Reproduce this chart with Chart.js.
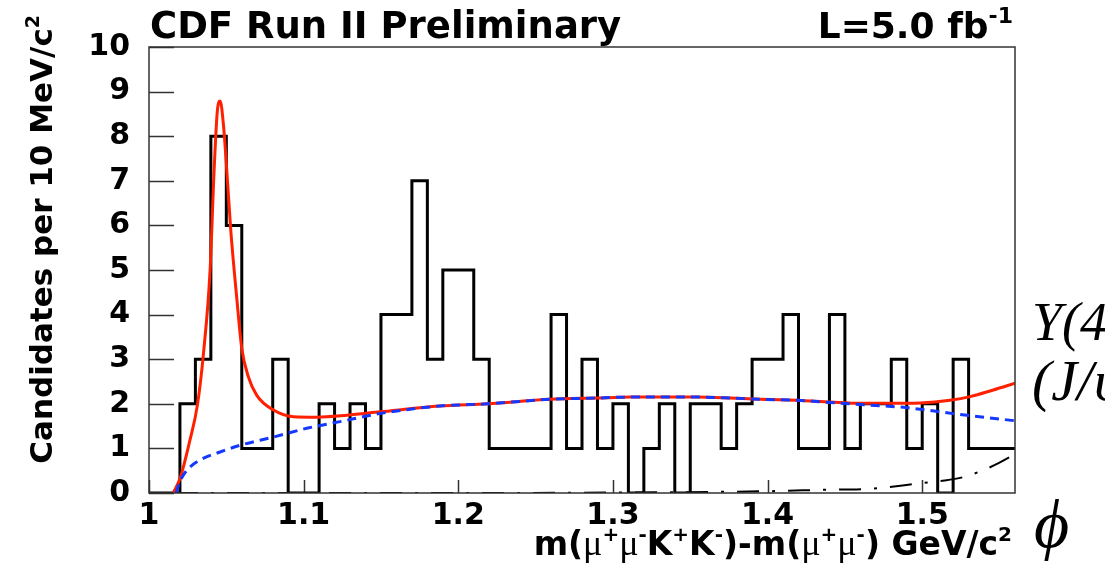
<!DOCTYPE html>
<html>
<head>
<meta charset="utf-8">
<title>CDF Run II Preliminary</title>
<script src="https://cdn.jsdelivr.net/npm/chart.js@4.4.1/dist/chart.umd.min.js"></script>
<style>
    html, body { margin: 0; padding: 0; background: #fff; overflow: hidden; }
    #wrap { position: relative; width: 1105px; height: 571px; overflow: hidden; }
    #plot { position: absolute; left: 0; top: 0; }
    .note {
        position: absolute;
        font-family: 'Liberation Serif', serif;
        font-style: italic;
        font-size: 54px;
        line-height: 1;
        color: #000;
        white-space: nowrap;
    }
</style>
</head>
<body>
<div id="wrap">
    <canvas id="plot" width="1105" height="571"></canvas>
    <div class="note" style="left:1032px; top:295px;">Y(4140)</div>
    <div class="note" style="left:1032px; top:352px; font-size:58px;">(J/ψ φ)</div>
    <div class="note" style="left:1034px; top:490px; font-size:68px;">ϕ</div>
</div>

<script>
// histogram bins, lower edges (10 MeV/c2 wide)
const binLow = [1.00, 1.01, 1.02, 1.03, 1.04, 1.05, 1.06, 1.07, 1.08, 1.09,
                1.10, 1.11, 1.12, 1.13, 1.14, 1.15, 1.16, 1.17, 1.18, 1.19,
                1.20, 1.21, 1.22, 1.23, 1.24, 1.25, 1.26, 1.27, 1.28, 1.29,
                1.30, 1.31, 1.32, 1.33, 1.34, 1.35, 1.36, 1.37, 1.38, 1.39,
                1.40, 1.41, 1.42, 1.43, 1.44, 1.45, 1.46, 1.47, 1.48, 1.49,
                1.50, 1.51, 1.52, 1.53, 1.54, 1.55];
const counts = [0, 0, 2, 3, 8, 6, 1, 1, 3, 0,
                0, 2, 1, 2, 1, 4, 4, 7, 3, 5,
                5, 3, 1, 1, 1, 1, 4, 1, 3, 1,
                2, 0, 1, 2, 0, 2, 2, 1, 2, 3,
                3, 4, 1, 1, 4, 1, 2, 2, 3, 1,
                2, 0, 3, 1, 1, 1];

// total fit (red)
const fitX = [1.0157, 1.0201, 1.0265, 1.0313, 1.0352, 1.0395, 1.0421, 1.0442, 1.0460,
              1.0481, 1.0503, 1.0529, 1.0567, 1.0600, 1.0643, 1.0697, 1.0805, 1.0934,
              1.1085, 1.128, 1.1495, 1.188, 1.219, 1.259, 1.290, 1.311, 1.354, 1.376,
              1.391, 1.419, 1.4405, 1.460, 1.477, 1.499, 1.518, 1.531, 1.546, 1.560];
const fitY = [0, 0.33, 1.19, 1.97, 3.12, 4.99, 7.23, 8.57, 8.79,
              8.27, 7.23, 5.88, 4.39, 3.24, 2.60, 2.19, 1.86, 1.71,
              1.70, 1.745, 1.82, 1.95, 2.00, 2.10, 2.13, 2.15, 2.15, 2.13,
              2.11, 2.08, 2.04, 2.01, 2.01, 2.02, 2.08, 2.16, 2.31, 2.46];

// background (blue dashed)
const bkgX = [1.0175, 1.0196, 1.0222, 1.0265, 1.033, 1.046, 1.0589, 1.080, 1.102,
              1.1235, 1.149, 1.188, 1.219, 1.259, 1.290, 1.311, 1.354, 1.376,
              1.3956, 1.419, 1.4405, 1.466, 1.488, 1.503, 1.520, 1.542, 1.560];
const bkgY = [0, 0.22, 0.40, 0.58, 0.74, 0.92, 1.07, 1.25, 1.45,
              1.60, 1.78, 1.95, 2.00, 2.10, 2.13, 2.15, 2.15, 2.13,
              2.10, 2.08, 2.03, 1.97, 1.92, 1.86, 1.78, 1.69, 1.62];

// other component (black dash-dot)
const extraX = [1.0175, 1.20, 1.30, 1.40, 1.434, 1.468, 1.499, 1.512, 1.527, 1.542, 1.550, 1.560];
const extraY = [0, 0, 0.01, 0.04, 0.07, 0.10, 0.22, 0.27, 0.36, 0.55, 0.68, 0.87];

const xTicks = [1.0, 1.1, 1.2, 1.3, 1.4, 1.5];
const xMin = 1.0;
const xMax = 1.56;

const titleText = 'CDF Run II Preliminary';
const FONT = "'DejaVu Sans', sans-serif";

function points(xs, ys) {
    return xs.map((x, i) => ({x: x, y: ys[i]}));
}

const histPoints = points(binLow, counts);
histPoints.push({x: xMax, y: counts[counts.length - 1]});

// text with superscripts: parts = [[text, kind], ...], kind '' | 'sup' | 'mu'
function richFont(kind, size) {
    if (kind === 'sup') return 'bold ' + Math.round(size * 0.62) + 'px ' + FONT;
    if (kind === 'mu') return Math.round(size * 1.1) + "px 'Liberation Serif', serif";
    return 'bold ' + size + 'px ' + FONT;
}

function drawRich(ctx, parts, x, y, size, align) {
    let total = 0;
    parts.forEach(p => { ctx.font = richFont(p[1], size); total += ctx.measureText(p[0]).width; });
    let cx = align === 'right' ? x - total : x;
    ctx.textAlign = 'left';
    ctx.textBaseline = 'alphabetic';
    parts.forEach(p => {
        ctx.font = richFont(p[1], size);
        const dy = p[1] === 'sup' ? -size * 0.42 : 0;
        ctx.fillText(p[0], cx, y + dy);
        cx += ctx.measureText(p[0]).width;
    });
}

const rootStyle = {
    id: 'rootStyle',
    beforeDatasetsDraw(chart) {
        const {ctx, chartArea: a, scales: {x, y}} = chart;
        ctx.save();
        ctx.strokeStyle = '#333';
        ctx.lineWidth = 1.5;
        ctx.beginPath();
        y.ticks.forEach(t => {
            const py = Math.round(y.getPixelForValue(t.value)) + 0.5;
            ctx.moveTo(a.left, py);
            ctx.lineTo(a.left + 25, py);
        });
        x.ticks.forEach(t => {
            const px = Math.round(x.getPixelForValue(t.value)) + 0.5;
            ctx.moveTo(px, a.bottom);
            ctx.lineTo(px, a.bottom - 13);
        });
        ctx.stroke();
        ctx.restore();
    },
    afterDraw(chart) {
        const {ctx, chartArea: a} = chart;
        ctx.save();
        // frame
        ctx.strokeStyle = '#333';
        ctx.lineWidth = 1.5;
        ctx.strokeRect(a.left, a.top, a.right - a.left, a.bottom - a.top);

        ctx.fillStyle = '#000';
        drawRich(ctx, [[titleText, '']], 150, 38, 37, 'left');
        drawRich(ctx, [['L=5.0 fb', ''], ['-1', 'sup']], a.right - 2, 38, 36, 'right');

        drawRich(ctx, [
            ['m(', ''], ['μ', 'mu'], ['+', 'sup'], ['μ', 'mu'], ['-', 'sup'],
            ['K', ''], ['+', 'sup'], ['K', ''], ['-', 'sup'], [')-m(', ''],
            ['μ', 'mu'], ['+', 'sup'], ['μ', 'mu'], ['-', 'sup'], [') GeV/c', ''], ['2', 'sup']
        ], a.right - 3, 555, 33, 'right');

        // y title, rotated, ends at the top
        ctx.translate(52, 15);
        ctx.rotate(-Math.PI / 2);
        drawRich(ctx, [['Candidates per 10 MeV/c', ''], ['2', 'sup']], 0, 0, 31, 'right');
        ctx.restore();
    }
};

const ctx = document.getElementById('plot').getContext('2d');
const chart = new Chart(ctx, {
    type: 'line',
    data: {
        datasets: [
            {
                label: 'background',
                data: points(bkgX, bkgY),
                borderColor: '#1438ff',
                borderWidth: 3,
                borderDash: [9, 6],
                cubicInterpolationMode: 'monotone',
                pointRadius: 0,
                order: 0
            },
            {
                label: 'fit',
                data: points(fitX, fitY),
                borderColor: '#ff2000',
                borderWidth: 3,
                cubicInterpolationMode: 'monotone',
                pointRadius: 0,
                order: 1
            },
            {
                label: 'other',
                data: points(extraX, extraY),
                borderColor: '#000',
                borderWidth: 2,
                borderDash: [22, 13, 3, 13],
                cubicInterpolationMode: 'monotone',
                pointRadius: 0,
                order: 2
            },
            {
                label: 'data',
                data: histPoints,
                borderColor: '#000',
                borderWidth: 3,
                stepped: true,
                pointRadius: 0,
                order: 3
            }
        ]
    },
    options: {
        responsive: false,
        animation: false,
        devicePixelRatio: 1,
        layout: {
            padding: {left: 0, top: 47, right: 90, bottom: 0}
        },
        scales: {
            x: {
                type: 'linear',
                min: xMin,
                max: xMax,
                afterBuildTicks: axis => { axis.ticks = xTicks.map(v => ({value: v})); },
                afterFit: scale => { scale.height = 78; },
                grid: {display: false, drawTicks: false},
                border: {display: false},
                ticks: {
                    padding: 5,
                    color: '#000',
                    maxRotation: 0,
                    font: {family: FONT, weight: 'bold', size: 30},
                    callback: v => String(+v.toFixed(2))
                }
            },
            y: {
                min: 0,
                max: 10,
                afterFit: scale => { scale.width = 149; },
                grid: {display: false, drawTicks: false},
                border: {display: false},
                ticks: {
                    stepSize: 1,
                    padding: 19,
                    color: '#000',
                    font: {family: FONT, weight: 'bold', size: 30}
                }
            }
        },
        plugins: {
            legend: {display: false},
            tooltip: {enabled: false}
        }
    },
    plugins: [rootStyle]
});
</script>
</body>
</html>
